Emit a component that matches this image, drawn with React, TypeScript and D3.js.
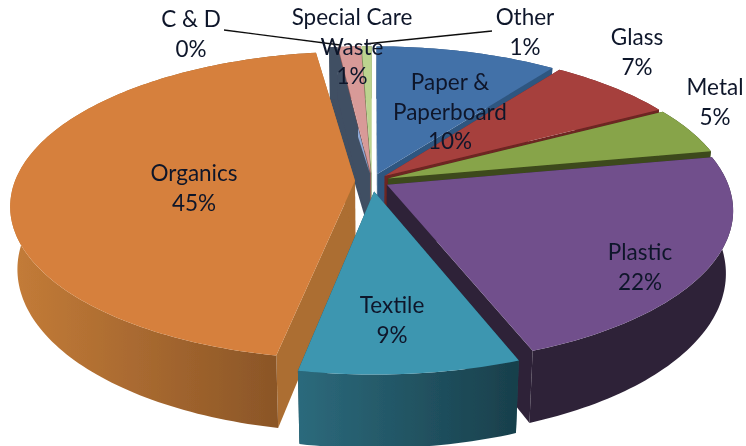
import * as d3 from 'd3';

const categories = ['Paper & Paperboard', 'Glass', 'Metal', 'Plastic', 'Textile', 'Organics', 'C & D', 'Special Care Waste', 'Other'];
const shares = [10, 7, 5, 22.2, 8.8, 44.75, 0.45, 1.25, 0.55];
const shareLabels = ['10%', '7%', '5%', '22%', '9%', '45%', '0%', '1%', '1%'];
const topColors = ['#4371a8', '#a6403e', '#87a44a', '#71508c', '#3d96b0', '#d6803c', 'url(#candd)', '#d89a98', '#bcd38f'];
const wallColors = ['#2f5680', '#6d2523', '#3d4a1a', '#2e2238', '#1d4a58', '#ac6e30', '#414f63', '#8d5a58', '#7d8f5c'];
// order the slices get painted in, back ones first
const paintOrder = [8, 7, 6, 0, 1, 2, 3, 5, 4];

const width = 746;
const height = 446;
const cx = 372;
const cy = 181;
const rx = 340;
const ry = 150;
const depth = 61;
const perspective = 0.16;
const explodeBy = [0.05, 0.05, 0.05, 0.05, 0.07, 0.05, 0.05, 0.05, 0.05];

// label blocks: [x, baseline of first line]
const labelPos: [number, number][] = [
  [450, 90], [637, 45], [715, 95], [640, 260], [392, 313], [194, 181], [191, 27], [352, 25], [525, 25],
];
const leaders = [
  [[224, 30], [340, 45]],
  [[492, 31], [365, 44]],
];

const arcs = d3.pie<number>().value((d) => d).sort(null).startAngle(0)(shares);
const lineGen = d3.line();

function project(a: number, r: number, bis: number, e: number, z: number): [number, number] {
  const ux = r * Math.sin(a) + e * Math.sin(bis);
  const uy = r * Math.cos(a) + e * Math.cos(bis);
  const s = 1 / (1 + perspective * uy);
  // the bottom plane sits a little narrower than the top one
  return [cx + rx * ux * s * (1 - 0.02 * z), cy - ry * uy * s + depth * z * s];
}

function arcPoints(start: number, end: number, bis: number, e: number, z: number) {
  const n = Math.max(4, Math.ceil((end - start) / 0.02));
  return d3.range(n + 1).map((i) => project(start + ((end - start) * i) / n, 1, bis, e, z));
}

function Slice({ i }: { i: number }) {
  const { startAngle: a0, endAngle: a1 } = arcs[i];
  const bis = (a0 + a1) / 2;
  const e = explodeBy[i];
  const tip = project(0, 0, bis, e, 0);
  const tipLow = project(0, 0, bis, e, 1);
  const top = arcPoints(a0, a1, bis, e, 0);
  const low = arcPoints(a0, a1, bis, e, 1);
  const wall = i === 5 || i === 4 ? `url(#wall${i})` : wallColors[i];
  return (
    <g>
      <path d={lineGen([tip, tipLow, project(a0, 1, bis, e, 1), project(a0, 1, bis, e, 0)])! + 'Z'} fill={wallColors[i]} />
      <path d={lineGen([tip, tipLow, project(a1, 1, bis, e, 1), project(a1, 1, bis, e, 0)])! + 'Z'} fill={wallColors[i]} />
      <path d={lineGen([...top, ...low.slice().reverse()])! + 'Z'} fill={wall} />
      <path d={lineGen([tip, ...top])! + 'Z'} fill={topColors[i]} />
    </g>
  );
}

function labelLines(i: number) {
  if (i === 0) return ['Paper &', 'Paperboard', shareLabels[i]];
  if (i === 7) return ['Special Care', 'Waste', shareLabels[i]];
  return [categories[i], shareLabels[i]];
}

export default function App() {
  return (
    <svg
      width={width}
      height={height}
      viewBox={`0 0 ${width} ${height}`}
      style={{ position: 'fixed', left: 0, top: 0, background: '#fff' }}
    >
      <defs>
        <linearGradient id='wall5' x1='0' x2='1' y1='0' y2='0'>
          <stop offset='0' stopColor='#c47c38' />
          <stop offset='0.88' stopColor='#8a5527' />
        </linearGradient>
        <linearGradient id='wall4' x1='0' x2='1' y1='0' y2='0'>
          <stop offset='0' stopColor='#2c6a7c' />
          <stop offset='1' stopColor='#183f4b' />
        </linearGradient>
        {/* thin slice: mostly in shadow, only its right sliver catches the light */}
        <linearGradient id='candd' x1='0' x2='1' y1='0' y2='0'>
          <stop offset='0.72' stopColor='#414f63' />
          <stop offset='0.72' stopColor='#8fa9d6' />
        </linearGradient>
        <filter id='soft' x='-5%' y='-5%' width='110%' height='110%'>
          <feGaussianBlur stdDeviation='0.5' />
        </filter>
      </defs>
      <g filter='url(#soft)'>
        {paintOrder.map((i) => (
          <Slice key={categories[i]} i={i} />
        ))}
        {leaders.map((pts, i) => (
          <path key={i} d={lineGen(pts as [number, number][])!} fill='none' stroke='#111' strokeWidth={1.3} />
        ))}
        {categories.map((name, i) => (
          <text
            key={name}
            x={labelPos[i][0]}
            y={labelPos[i][1]}
            textAnchor='middle'
            fontFamily='Lato, "Open Sans", sans-serif'
            fontSize={22.5}
            fill='#10162a'
          >
            {labelLines(i).map((t, k) => (
              <tspan key={k} x={labelPos[i][0]} dy={k === 0 ? 0 : 29.5}>
                {t}
              </tspan>
            ))}
          </text>
        ))}
      </g>
    </svg>
  );
}
